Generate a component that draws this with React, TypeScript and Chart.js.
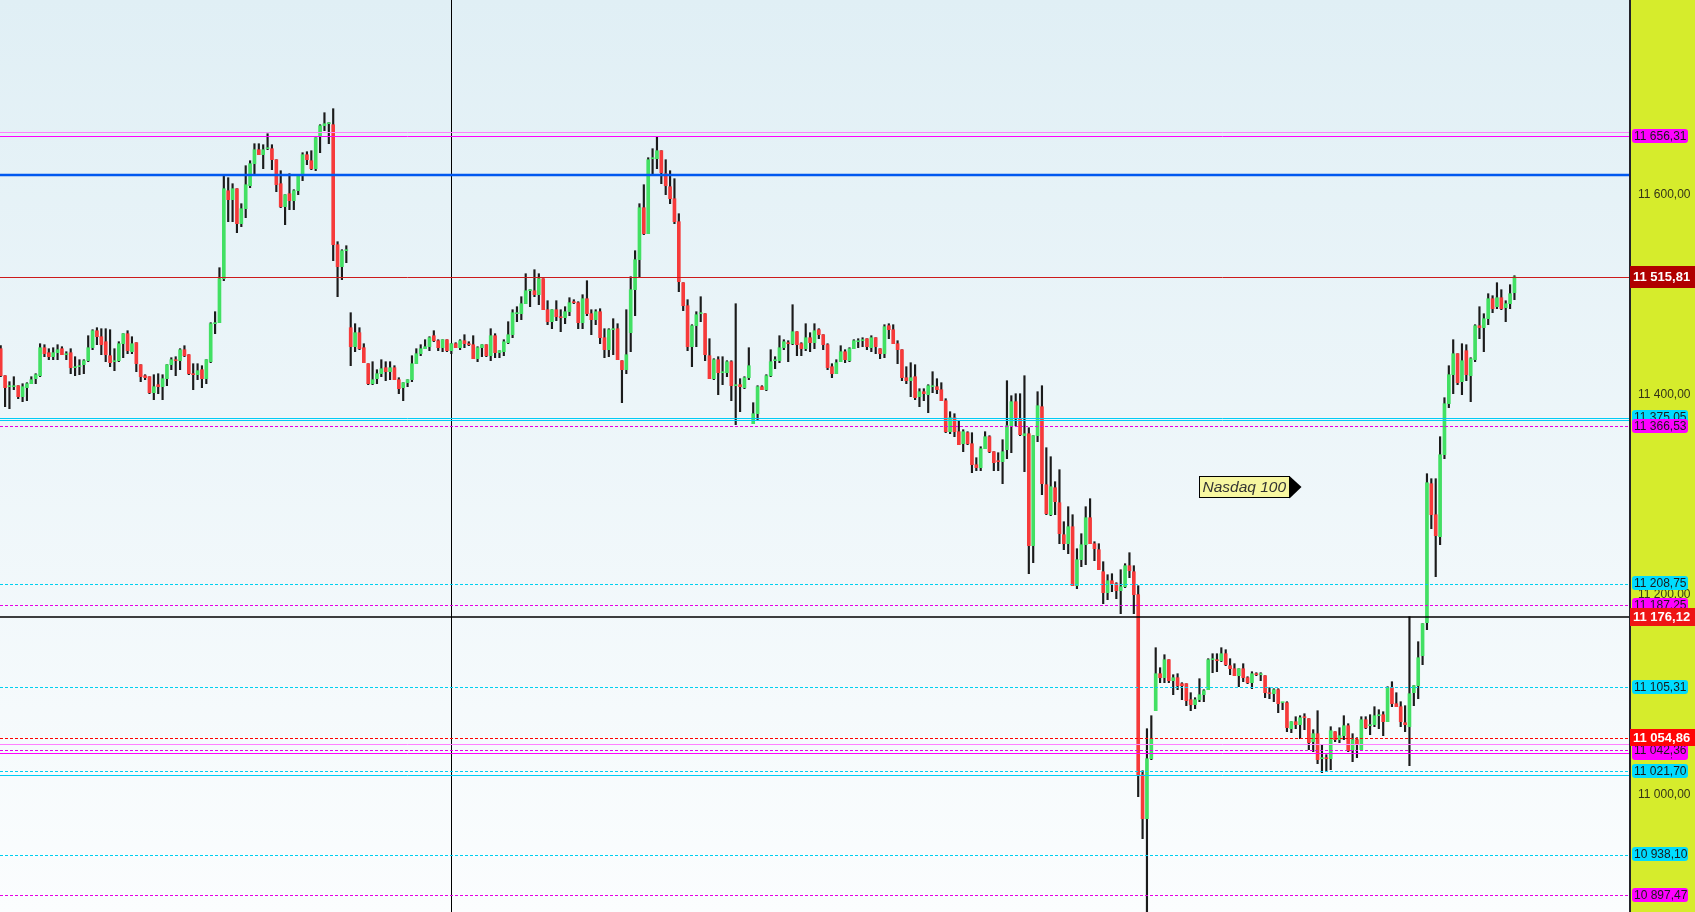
import React, { useEffect, useRef } from 'react';
import { Chart, registerables } from 'chart.js';

Chart.register(...registerables);

// ---------- candle data (index = bar number) ----------
const OPEN = [
11444,11417,11406,11406,11407,11396,11405,11409,11414,11417,
11445,11440,11436,11440,11444,11438,11440,11425,11426,11428,
11432,11445,11462,11456,11451,11437,11431,11432,11449,11459,
11441,11450,11428,11417,11416,11400,11408,11406,11414,11428,
11433,11432,11443,11438,11419,11418,11423,11414,11431,11469,
11470,11514,11602,11593,11604,11569,11584,11607,11629,11643,
11638,11644,11644,11633,11609,11586,11599,11592,11602,11619,
11638,11632,11624,11656,11667,11669,11668,11548,11526,11542,
11465,11446,11460,11445,11429,11409,11414,11419,11425,11421,
11425,11413,
11405,11410,11413,11429,11439,11444,11446,11457,11452,11445,
11453,11442,11449,11445,11452,11449,11448,11434,11445,11448,
11437,11457,11440,11441,11450,11458,11479,11479,11489,11502,
11502,11498,11514,11483,11471,11483,11476,11475,11481,11491,
11490,11470,11494,11479,11473,11481,11455,11443,11463,11464,
11432,11423,11460,11503,11533,11585,11559,11634,11634,11642,
11619,11606,11594,11571,11510,11487,11446,11467,11479,11479,
11437,11414,11433,11420,11420,11431,11407,11408,11405,11415,
11369,11379,11406,11403,11417,11432,11432,11445,11450,11449,
11461,
11449,11444,11455,11450,11463,11458,11448,11426,11419,11431,
11441,11432,11444,11451,11452,11454,11445,11455,11444,11439,
11467,11463,11449,11443,11415,11412,11416,11396,11401,11398,
11406,11406,11403,11392,11361,11375,11361,11349,11360,11349,
11328,11325,11344,11356,11341,11332,11331,11343,11367,11391,
11374,11357,11359,11247,11357,11386,11308,11278,11305,11290,
11258,11249,11266,11207,11233,11248,11275,11249,11243,11221,
11200,11212,11209,11202,11206,11227,11221,11198,
11018,10974,11034,11082,11119,11115,11133,11112,11115,11109,
11109,11093,11088,11093,11098,11103,11133,11133,11132,11139,
11127,11124,11117,11124,11115,11110,11119,11118,11117,11100,
11099,11103,11090,11090,11064,11071,11068,11076,11074,11051,
11059,11034,11035,11034,11061,11053,11057,11067,11043,11053,
11043,11073,11067,11068,11077,11078,11071,11105,11089,11086,
11070,11066,11100,11107,11137,11170,11309,11278,11256,11338,
11389,11418,11439,11411,11442,11417,11433,11467,11465,11474,
11494,11486,11495,11485,11489,11500
];

const HIGH = [
11447,11417,11411,11416,11407,11409,11410,11416,11419,11449,
11448,11444,11445,11448,11446,11441,11444,11436,11433,11433,
11457,11463,11465,11464,11464,11463,11444,11451,11459,11462,
11456,11450,11428,11418,11416,11418,11419,11418,11428,11435,
11436,11444,11447,11438,11429,11429,11427,11433,11470,11481,
11525,11617,11615,11609,11604,11589,11627,11632,11649,11649,
11648,11659,11648,11633,11622,11598,11619,11603,11617,11640,
11641,11642,11655,11668,11680,11670,11684,11551,11543,11547,
11480,11469,11465,11449,11429,11431,11423,11433,11431,11431,
11427,11415,
11410,11413,11437,11444,11448,11453,11456,11462,11453,11453,
11453,11449,11450,11453,11458,11451,11457,11446,11448,11448,
11464,11459,11442,11453,11471,11483,11486,11496,11519,11503,
11523,11519,11514,11492,11483,11492,11483,11486,11495,11493,
11491,11498,11512,11483,11483,11484,11464,11464,11474,11469,
11432,11483,11516,11542,11589,11608,11635,11644,11656,11642,
11633,11622,11614,11579,11510,11493,11468,11481,11496,11479,
11454,11434,11436,11436,11432,11432,11489,11414,11416,11445,
11390,11407,11407,11418,11443,11436,11457,11453,11452,11488,
11461,
11450,11469,11460,11469,11464,11458,11449,11429,11433,11447,
11443,11445,11453,11454,11455,11454,11457,11455,11444,11468,
11469,11468,11452,11443,11426,11430,11428,11404,11404,11408,
11421,11414,11410,11394,11381,11379,11372,11363,11361,11360,
11335,11346,11361,11357,11341,11340,11353,11412,11397,11399,
11399,11417,11365,11357,11401,11407,11345,11336,11311,11323,
11271,11286,11278,11244,11259,11286,11294,11251,11249,11231,
11218,11219,11210,11223,11229,11240,11227,11207,
11022,11064,11077,11145,11125,11138,11133,11118,11119,11110,
11109,11100,11095,11114,11103,11134,11139,11139,11145,11143,
11134,11129,11124,11129,11116,11121,11120,11120,11117,11105,
11104,11104,11090,11091,11071,11076,11077,11079,11074,11063,
11082,11048,11038,11066,11061,11065,11077,11069,11059,11055,
11076,11076,11078,11086,11083,11081,11106,11111,11100,11091,
11087,11176,11107,11151,11169,11319,11314,11314,11356,11395,
11427,11453,11439,11449,11448,11435,11468,11486,11479,11499,
11497,11510,11503,11492,11508,11517
];

const LOW = [
11416,11386,11384,11403,11394,11391,11392,11409,11409,11416,
11436,11433,11433,11433,11438,11433,11419,11417,11418,11419,
11431,11443,11448,11438,11431,11426,11422,11431,11435,11439,
11439,11421,11411,11413,11399,11393,11399,11393,11407,11423,
11417,11423,11436,11418,11403,11413,11405,11409,11430,11459,
11470,11512,11571,11571,11560,11566,11575,11605,11619,11638,
11624,11643,11623,11601,11585,11568,11583,11583,11598,11612,
11628,11623,11622,11640,11662,11649,11532,11496,11513,11530,
11427,11441,11443,11430,11408,11408,11409,11416,11412,11413,
11413,11399,
11392,11406,11411,11429,11437,11444,11442,11451,11442,11441,
11441,11439,11445,11443,11445,11447,11434,11431,11436,11436,
11432,11435,11435,11437,11449,11455,11471,11473,11489,11486,
11496,11488,11483,11468,11464,11472,11461,11469,11477,11489,
11464,11464,11477,11458,11468,11449,11435,11436,11438,11433,
11390,11419,11441,11477,11516,11558,11559,11619,11624,11609,
11598,11589,11569,11501,11482,11442,11426,11446,11471,11432,
11414,11413,11398,11408,11416,11392,11368,11381,11404,11413,
11369,11373,11403,11402,11416,11424,11430,11443,11431,11448,
11437,
11437,11442,11441,11444,11454,11443,11423,11415,11419,11431,
11430,11431,11444,11445,11446,11443,11441,11439,11434,11435,
11454,11449,11429,11412,11409,11396,11393,11386,11392,11380,
11400,11399,11392,11360,11359,11356,11348,11341,11348,11320,
11322,11322,11344,11340,11322,11322,11309,11334,11340,11367,
11357,11321,11219,11230,11351,11298,11278,11277,11278,11249,
11243,11239,11207,11204,11226,11228,11249,11232,11223,11189,
11193,11201,11194,11179,11205,11215,11179,10996,
10954,10870,11033,11082,11110,11110,11110,11098,11103,11093,
11087,11082,11084,11091,11091,11103,11120,11121,11131,11127,
11118,11117,11106,11111,11109,11104,11117,11112,11095,11094,
11091,11080,11083,11061,11060,11064,11054,11063,11043,11041,
11029,11020,11021,11023,11051,11050,11053,11041,11031,11035,
11043,11064,11058,11066,11064,11057,11071,11086,11086,11066,
11061,11027,11087,11094,11128,11163,11264,11216,11248,11334,
11385,11399,11408,11398,11412,11391,11431,11454,11441,11468,
11480,11484,11483,11471,11484,11493
];

const CLOSE = [
11417,11405,11406,11407,11396,11406,11409,11413,11418,11445,
11439,11436,11440,11443,11438,11439,11425,11425,11427,11432,
11445,11462,11456,11448,11438,11430,11431,11449,11459,11442,
11449,11429,11416,11415,11400,11406,11406,11414,11428,11433,
11432,11443,11437,11419,11418,11422,11414,11433,11469,11470,
11514,11604,11593,11604,11569,11584,11608,11629,11643,11638,
11643,11645,11633,11608,11586,11598,11592,11602,11617,11638,
11633,11624,11655,11667,11669,11670,11548,11526,11542,11542,
11446,11460,11444,11430,11409,11413,11419,11424,11421,11425,
11413,11404,
11410,11413,11429,11439,11444,11446,11455,11452,11445,11453,
11442,11449,11445,11452,11449,11448,11434,11445,11448,11437,
11457,11440,11442,11451,11458,11480,11479,11489,11502,11503,
11498,11514,11483,11471,11483,11476,11475,11481,11490,11490,
11470,11494,11479,11473,11481,11455,11443,11463,11464,11433,
11423,11438,11503,11533,11585,11559,11633,11634,11642,11620,
11607,11594,11571,11511,11487,11446,11467,11478,11479,11438,
11414,11433,11420,11420,11431,11407,11407,11406,11415,11427,
11379,11406,11403,11417,11431,11432,11445,11451,11449,11461,
11448,
11444,11455,11450,11462,11458,11448,11425,11419,11430,11441,
11433,11444,11452,11452,11453,11446,11455,11446,11439,11466,
11463,11449,11443,11415,11412,11415,11395,11401,11399,11407,
11406,11403,11392,11361,11375,11361,11348,11361,11349,11328,
11325,11344,11356,11341,11330,11331,11341,11367,11391,11374,
11358,11359,11247,11357,11387,11309,11279,11306,11291,11259,
11249,11266,11207,11233,11248,11275,11249,11244,11223,11200,
11212,11209,11202,11206,11227,11222,11198,11018,
10974,11034,11054,11119,11115,11133,11112,11115,11107,11107,
11092,11088,11093,11098,11102,11133,11134,11132,11139,11128,
11124,11117,11124,11115,11110,11119,11118,11118,11100,11099,
11103,11089,11090,11065,11071,11068,11075,11075,11050,11059,
11033,11035,11034,11062,11053,11057,11067,11042,11053,11049,
11073,11065,11068,11077,11077,11071,11105,11089,11086,11071,
11068,11099,11107,11135,11169,11310,11278,11257,11338,11389,
11418,11439,11410,11432,11418,11434,11467,11465,11474,11494,
11484,11495,11484,11489,11499,11515.81
];

// ---------- axis values ----------
const Y_MIN = 10880.7;
const Y_MAX = 11792.7;
const Y_TICKS = [11000, 11200, 11400, 11600];
const X_MIN = -0.16;
const X_MAX = 372.41;
const MARKER_INDEX = 103;

// ---------- horizontal levels (draw order) ----------
const LEVEL_PRICES = [
  11660.5, 11656.31, 11617.7, 11515.81, 11375.05, 11372.5, 11366.53,
  11208.75, 11187.25, 11176.12, 11105.31, 11048.5, 11039.5, 11042.36,
  11054.86, 11021.7, 11017.7, 10938.1, 10897.47
];
const LEVEL_KINDS = [
  'pinkSolid', 'magentaSolid', 'blueThick', 'redSolid', 'cyanSolid', 'cyanSolid', 'magentaDot',
  'cyanDot', 'magentaDot', 'blackSolid', 'cyanDot', 'pinkSolid', 'magentaSolid', 'magentaDot',
  'redDot', 'cyanDot', 'cyanSolid', 'cyanDot', 'magentaDot'
];
const LEVEL_TAGGED = [
  false, true, false, true, true, false, true,
  true, true, true, true, false, true, true,
  true, true, false, true, true
];

// ---------- annotation ----------
const NOTE_TEXT = 'Nasdaq 100';
const NOTE_INDEX = 274;
const NOTE_PRICE = 11306;

// ---------- styles ----------
const FONT = '"Liberation Sans", Arial, Helvetica, sans-serif';
const LINE_STYLES: any = {
  pinkSolid: { color: '#ff80ff', width: 1, dash: [] },
  magentaSolid: { color: '#ff00ff', width: 1, dash: [] },
  blueThick: { color: '#0058f0', width: 2.5, dash: [] },
  redSolid: { color: '#cc1a1a', width: 1, dash: [] },
  cyanSolid: { color: '#00ccf5', width: 1, dash: [] },
  cyanDot: { color: '#00d0f0', width: 1, dash: [3, 2] },
  magentaDot: { color: '#e600e6', width: 1, dash: [3, 2] },
  blackSolid: { color: '#000000', width: 1.5, dash: [] },
  redDot: { color: '#ff0000', width: 1, dash: [3, 2] },
};
const TAG_STYLES: any = {
  pinkSolid: { bg: '#ff00ff', fg: '#1a1a1a', bold: false },
  magentaSolid: { bg: '#ff00ff', fg: '#1a1a1a', bold: false },
  magentaDot: { bg: '#ff00ff', fg: '#1a1a1a', bold: false },
  cyanSolid: { bg: '#00dcff', fg: '#1a1a1a', bold: false },
  cyanDot: { bg: '#00dcff', fg: '#1a1a1a', bold: false },
  redSolid: { bg: '#b00000', fg: '#ffffff', bold: true, h: 22 },
  blackSolid: { bg: '#ee1515', fg: '#ffffff', bold: true, h: 18 },
  redDot: { bg: '#ff0505', fg: '#ffffff', bold: true, h: 17 },
};

const fmt = (v: number) => {
  const [i, d] = Math.abs(v).toFixed(2).split('.');
  return i.replace(/\B(?=(\d{3})+(?!\d))/g, ' ') + ',' + d;
};

export default function App() {
  const ref = useRef<HTMLCanvasElement>(null);

  useEffect(() => {
    document.body.style.margin = '0';
    const canvas = ref.current;
    if (!canvas) return;
    const idx = OPEN.map((_, i) => i);
    const isUp = (i: number) => CLOSE[i] >= OPEN[i];

    const overlay: any = {
      id: 'overlay',
      beforeDraw(chart: any) {
        const { ctx, chartArea: a, width, height } = chart;
        ctx.save();
        const g = ctx.createLinearGradient(0, a.top, 0, a.bottom);
        g.addColorStop(0, '#e0eff5');
        g.addColorStop(1, '#fbfdfe');
        ctx.fillStyle = g;
        ctx.fillRect(a.left, a.top, a.right - a.left, a.bottom - a.top);
        ctx.fillStyle = '#d6ec2c';
        ctx.fillRect(a.right, 0, width - a.right, height);
        ctx.restore();
      },
      beforeDatasetsDraw(chart: any) {
        const { ctx, chartArea: a } = chart;
        const xs = chart.scales.x;
        const x = Math.round(xs.getPixelForValue(MARKER_INDEX)) + 0.5;
        ctx.save();
        ctx.strokeStyle = '#000';
        ctx.lineWidth = 1;
        ctx.beginPath();
        ctx.moveTo(x, a.top);
        ctx.lineTo(x, a.bottom);
        ctx.stroke();
        ctx.restore();
      },
      afterDatasetsDraw(chart: any) {
        const { ctx, chartArea: a } = chart;
        const ys = chart.scales.y;
        const xs = chart.scales.x;
        ctx.save();
        ctx.beginPath();
        ctx.rect(a.left, a.top, a.right - a.left, a.bottom - a.top);
        ctx.clip();
        LEVEL_PRICES.forEach((p, k) => {
          const st = LINE_STYLES[LEVEL_KINDS[k]];
          let y = ys.getPixelForValue(p);
          y = st.width % 2 === 1 ? Math.round(y) + 0.5 : Math.round(y);
          ctx.strokeStyle = st.color;
          ctx.lineWidth = st.width;
          ctx.setLineDash(st.dash);
          ctx.beginPath();
          ctx.moveTo(a.left, y);
          ctx.lineTo(a.right, y);
          ctx.stroke();
        });
        ctx.setLineDash([]);
        // annotation
        const nx = xs.getPixelForValue(NOTE_INDEX);
        const ny = ys.getPixelForValue(NOTE_PRICE);
        ctx.font = 'italic 15.5px ' + FONT;
        const tw = ctx.measureText(NOTE_TEXT).width;
        const bw = Math.round(tw + 6);
        const bh = 21;
        const left = Math.round(nx) + 0.5;
        const top = Math.round(ny - bh / 2) + 0.5;
        ctx.fillStyle = '#f7f7a0';
        ctx.fillRect(left, top, bw, bh);
        ctx.strokeStyle = '#000';
        ctx.lineWidth = 1;
        ctx.strokeRect(left, top, bw, bh);
        ctx.fillStyle = '#333333';
        ctx.textBaseline = 'middle';
        ctx.textAlign = 'left';
        ctx.fillText(NOTE_TEXT, left + 3, top + bh / 2 + 1);
        ctx.fillStyle = '#000';
        ctx.beginPath();
        ctx.moveTo(left + bw, top - 0.5);
        ctx.lineTo(left + bw + 12, top + bh / 2);
        ctx.lineTo(left + bw, top + bh + 1);
        ctx.closePath();
        ctx.fill();
        ctx.restore();
      },
      afterDraw(chart: any) {
        const { ctx, chartArea: a, width } = chart;
        const ys = chart.scales.y;
        ctx.save();
        ctx.fillStyle = '#23232a';
        ctx.fillRect(a.right - 1, 0, 2, chart.height);
        LEVEL_PRICES.forEach((p, k) => {
          if (!LEVEL_TAGGED[k]) return;
          const st = TAG_STYLES[LEVEL_KINDS[k]];
          const y = ys.getPixelForValue(p);
          const text = fmt(p);
          ctx.textBaseline = 'middle';
          ctx.textAlign = 'left';
          if (st.bold) {
            const h = st.h;
            const top = Math.round(y - h / 2);
            ctx.fillStyle = st.bg;
            ctx.fillRect(a.right, top, width - a.right, h);
            ctx.font = 'bold 13px ' + FONT;
            ctx.fillStyle = st.fg;
            ctx.fillText(text, a.right + 3, top + h / 2 + 0.5);
          } else {
            const h = 14;
            const w = 56;
            const top = Math.round(y - 0.5 - h / 2);
            ctx.fillStyle = st.bg;
            ctx.beginPath();
            if ((ctx as any).roundRect) (ctx as any).roundRect(a.right + 2, top, w, h, 3);
            else ctx.rect(a.right + 2, top, w, h);
            ctx.fill();
            ctx.font = '12px ' + FONT;
            ctx.fillStyle = st.fg;
            ctx.fillText(text, a.right + 4, top + h / 2 + 0.5);
          }
        });
        ctx.restore();
      },
    };

    const chart = new Chart(canvas, {
      type: 'bar',
      data: {
        datasets: [
          {
            data: idx.map((i) => ({ x: i, y: [LOW[i], HIGH[i]] })),
            backgroundColor: '#1b1b1b',
            borderWidth: 0,
            barThickness: 1.5,
            grouped: false,
            order: 2,
          } as any,
          {
            data: idx.map((i) => ({ x: i, y: [OPEN[i], CLOSE[i]] })),
            backgroundColor: (c: any) => (isUp(c.dataIndex) ? '#42e063' : '#f63a3a'),
            borderWidth: 0,
            barThickness: 3,
            minBarLength: 1,
            grouped: false,
            order: 1,
          } as any,
        ],
      },
      options: {
        animation: false,
        responsive: true,
        maintainAspectRatio: false,
        layout: { padding: 0 },
        plugins: { legend: { display: false }, tooltip: { enabled: false } },
        scales: {
          x: {
            type: 'linear',
            min: X_MIN,
            max: X_MAX,
            display: false,
            offset: false,
            grid: { display: false },
          },
          y: {
            type: 'linear',
            position: 'right',
            min: Y_MIN,
            max: Y_MAX,
            afterBuildTicks: (axis: any) => {
              axis.ticks = Y_TICKS.map((v) => ({ value: v }));
            },
            afterFit: (axis: any) => {
              axis.width = 65;
              axis.paddingTop = 0;
              axis.paddingBottom = 0;
            },
            grid: { display: false, drawTicks: false },
            border: { display: false },
            ticks: {
              padding: 8,
              labelOffset: 2,
              color: '#333318',
              font: { family: FONT, size: 12 },
              callback: (v: any) => fmt(Number(v)),
            },
          },
        },
      } as any,
      plugins: [overlay],
    });
    return () => chart.destroy();
  }, []);

  return (
    <div style={{ width: 1695, height: 912, position: 'relative', overflow: 'hidden' }}>
      <canvas ref={ref} />
    </div>
  );
}
